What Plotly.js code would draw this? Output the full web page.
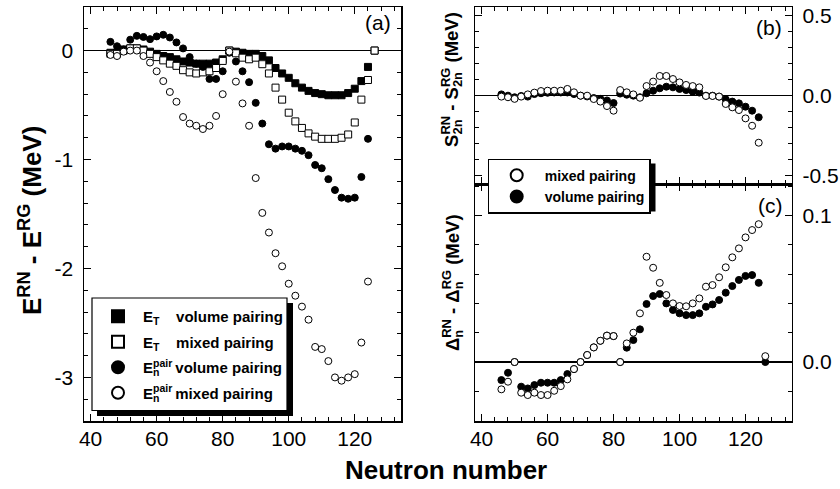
<!DOCTYPE html>
<html>
<head>
<meta charset="utf-8">
<script src="https://cdn.plot.ly/plotly-3.0.1.min.js"></script>
<style>
  html, body { margin: 0; padding: 0; background: #fff; }
  #chart { width: 840px; height: 489px; }
</style>
</head>
<body>
<div id="chart"></div>
<script>
// ---- Panel (a): energy differences E(RN) - E(RG), MeV ----
const neutronsA = [46,48,50,52,54,56,58,60,62,64,66,68,70,72,74,76,78,80,82,84,86,88,90,92,94,96,98,100,102,104,106,108,110,112,114,116,118,120,122,124,126];
const totalVolume = [-0.02,-0.02,0.01,0.02,0.02,0.01,-0.01,-0.03,-0.05,-0.06,-0.08,-0.10,-0.11,-0.12,-0.12,-0.12,-0.11,-0.08,0.0,-0.01,-0.02,-0.03,-0.03,-0.05,-0.09,-0.16,-0.21,-0.25,-0.30,-0.34,-0.37,-0.39,-0.40,-0.41,-0.41,-0.41,-0.39,-0.35,-0.28,-0.15,0.0];
const totalMixed = [-0.03,-0.03,0.0,0.02,0.02,0.0,-0.03,-0.06,-0.09,-0.12,-0.14,-0.18,-0.20,-0.21,-0.20,-0.19,-0.16,-0.095,0.0,-0.025,-0.065,-0.08,-0.065,-0.125,-0.21,-0.34,-0.45,-0.57,-0.65,-0.71,-0.76,-0.79,-0.81,-0.81,-0.81,-0.80,-0.77,-0.66,-0.45,-0.27,0.0];
const neutronsPair = [46,48,50,52,54,56,58,60,62,64,66,68,70,72,74,76,78,80,82,84,86,88,90,92,94,96,98,100,102,104,106,108,110,112,114,116,118,120,122,124];
const pairVolume = [0.08,0.04,0.01,0.10,0.135,0.125,0.105,0.13,0.145,0.12,0.075,0.02,-0.06,-0.12,-0.15,-0.26,-0.26,-0.19,-0.02,-0.10,-0.19,-0.29,-0.48,-0.67,-0.86,-0.90,-0.88,-0.88,-0.90,-0.92,-0.96,-1.05,-1.08,-1.18,-1.28,-1.35,-1.36,-1.35,-1.16,-0.81];
const pairMixed = [-0.04,-0.05,-0.01,0.0,0.0,-0.05,-0.11,-0.19,-0.28,-0.38,-0.47,-0.61,-0.67,-0.69,-0.72,-0.69,-0.60,-0.40,-0.01,-0.285,-0.485,-0.69,-1.17,-1.49,-1.67,-1.86,-1.98,-2.14,-2.25,-2.35,-2.47,-2.72,-2.74,-2.85,-3.0,-3.03,-3.0,-2.97,-2.68,-2.12];

// ---- Panel (b): two-neutron separation energy differences, MeV ----
const neutronsB = [46,48,50,52,54,56,58,60,62,64,66,68,70,72,74,76,78,80,82,84,86,88,90,92,94,96,98,100,102,104,106,108,110,112,114,116,118,120,122,124];
const s2nMixed = [-0.006,-0.01,-0.02,-0.006,0.008,0.019,0.029,0.031,0.031,0.031,0.042,0.021,0.0,0.0,-0.021,-0.037,-0.065,-0.094,0.035,0.021,0.008,-0.013,0.06,0.088,0.123,0.123,0.104,0.083,0.067,0.06,0.052,-0.002,-0.002,-0.006,-0.052,-0.073,-0.09,-0.142,-0.188,-0.294];
const s2nVolume = [0.008,0.0,-0.01,-0.002,-0.006,0.01,0.015,0.018,0.02,0.02,0.02,0.01,0.0,-0.005,-0.015,-0.02,-0.03,-0.046,0.013,0.006,0.0,-0.01,0.015,0.031,0.046,0.056,0.052,0.042,0.035,0.025,0.019,0.0,0.0,-0.006,-0.023,-0.037,-0.048,-0.069,-0.094,-0.135];

// ---- Panel (c): neutron pairing gap differences, MeV ----
const neutronsC = [46,48,50,52,54,56,58,60,62,64,66,68,70,72,74,76,78,80,82,84,86,88,90,92,94,96,98,100,102,104,106,108,110,112,114,116,118,120,122,124,126];
const gapMixed = [-0.0186,-0.0134,0.0,-0.0209,-0.0225,-0.0209,-0.0225,-0.0225,-0.0196,-0.0164,-0.0118,-0.0048,0.0,0.0048,0.010,0.0145,0.018,0.0177,0.0,0.0127,0.020,0.0332,0.0718,0.0643,0.054,0.0457,0.040,0.0382,0.038,0.040,0.0434,0.0514,0.0525,0.0578,0.0646,0.0714,0.0775,0.085,0.090,0.094,0.004];
const gapVolume = [-0.0123,-0.0073,0.0,-0.0168,-0.018,-0.0157,-0.0141,-0.0141,-0.0141,-0.0123,-0.0082,-0.0048,0.0,0.0048,0.010,0.0145,0.018,0.0177,0.0,0.0098,0.015,0.0223,0.0396,0.045,0.0464,0.040,0.0355,0.0332,0.032,0.032,0.0332,0.0377,0.0393,0.0423,0.0473,0.0518,0.056,0.0587,0.0593,0.054,0.0];

// ---- Tick labels ----
const xTicks = [40, 60, 80, 100, 120];
const xTickText = ['40', '60', '80', '100', '120'];
const yTicksA = [0, -1, -2, -3];
const yTickTextA = ['0', '-1', '-2', '-3'];
const yTicksB = [0.5, 0, -0.5];
const yTickTextB = ['0.5', '0.0', '-0.5'];
const yTicksC = [0.1, 0];
const yTickTextC = ['0.1', '0.0'];

const FONT = 'Liberation Sans, Arial, Helvetica, sans-serif';
const W = 840, H = 489;
const px = v => v / W;
const py = v => 1 - v / H;

const filled = (sym) => ({ symbol: sym, size: 7, color: '#000', line: { color: '#000', width: 1 } });
const hollow = (sym) => ({ symbol: sym, size: 7, color: '#fff', line: { color: '#000', width: 1 } });

const traces = [
  { x: neutronsA, y: totalVolume, xaxis: 'x', yaxis: 'y', mode: 'markers', marker: filled('square'),
    name: 'E<sub>T</sub>\u00a0\u00a0\u00a0\u00a0volume pairing', legend: 'legend', legendgroup: 'a1' },
  { x: neutronsA, y: totalMixed, xaxis: 'x', yaxis: 'y', mode: 'markers', marker: hollow('square'),
    name: 'E<sub>T</sub>\u00a0\u00a0\u00a0\u00a0mixed pairing', legend: 'legend', legendgroup: 'a2' },
  { x: neutronsPair, y: pairVolume, xaxis: 'x', yaxis: 'y', mode: 'markers', marker: filled('circle'),
    name: 'E<sub>n</sub><sup>pair</sup>\u2009volume pairing', legend: 'legend', legendgroup: 'a3' },
  { x: neutronsPair, y: pairMixed, xaxis: 'x', yaxis: 'y', mode: 'markers', marker: hollow('circle'),
    name: 'E<sub>n</sub><sup>pair</sup>\u2009mixed pairing', legend: 'legend', legendgroup: 'a4' },

  { x: neutronsB, y: s2nVolume, xaxis: 'x2', yaxis: 'y2', mode: 'markers', marker: filled('circle'),
    name: 'volume pairing', legend: 'legend2', legendrank: 2 },
  { x: neutronsB, y: s2nMixed, xaxis: 'x2', yaxis: 'y2', mode: 'markers', marker: hollow('circle'),
    name: 'mixed pairing', legend: 'legend2', legendrank: 1 },

  { x: neutronsC, y: gapVolume, xaxis: 'x3', yaxis: 'y3', mode: 'markers', marker: filled('circle'),
    name: 'volume pairing', showlegend: false },
  { x: neutronsC, y: gapMixed, xaxis: 'x3', yaxis: 'y3', mode: 'markers', marker: hollow('circle'),
    name: 'mixed pairing', showlegend: false }
];

const tickFont = { family: FONT, size: 21, color: '#000' };

function xAxis(domain, anchor, labels) {
  return {
    domain, anchor, range: [38, 134],
    showline: true, linecolor: '#000', linewidth: 1.5, mirror: 'ticks',
    ticks: 'inside', ticklen: 7, tickwidth: 1.2, tickcolor: '#000',
    tickvals: xTicks, ticktext: xTickText, showticklabels: labels,
    tickfont: tickFont, ticklabelstandoff: -2,
    minor: { ticks: 'inside', tick0: 40, dtick: 4, ticklen: 4, tickwidth: 1, tickcolor: '#000' },
    showgrid: false, zeroline: false
  };
}

function yAxis(domain, anchor, range, vals, text, minorStep, side) {
  return {
    domain, anchor, range, side,
    showline: true, linecolor: '#000', linewidth: 1.5, mirror: 'ticks',
    ticks: 'inside', ticklen: 7, tickwidth: 1.2, tickcolor: '#000',
    tickvals: vals, ticktext: text, tickfont: tickFont, ticklabelstandoff: 5,
    minor: { ticks: 'inside', tick0: 0, dtick: minorStep, ticklen: 4, tickwidth: 1, tickcolor: '#000' },
    showgrid: false, zeroline: true, zerolinecolor: '#000', zerolinewidth: 1.5
  };
}

const domA = [px(84), px(401)];
const domBC = [px(475), px(791.7)];

const titleFont = (size) => ({ family: FONT, size, color: '#000', weight: 'bold' });
const note = (text, x, y, font, angle) => ({
  text, x: px(x), y: py(y), xref: 'paper', yref: 'paper', xanchor: 'center', yanchor: 'middle',
  showarrow: false, textangle: angle || 0, font
});

const layout = {
  width: W, height: H,
  margin: { l: 0, r: 0, t: 0, b: 0 },
  paper_bgcolor: '#fff', plot_bgcolor: '#fff',
  font: { family: FONT, color: '#000' },
  xaxis: xAxis(domA, 'y', true),
  yaxis: yAxis([py(421), py(7)], 'x', [-3.4, 0.4], yTicksA, yTickTextA, 0.2, 'left'),
  xaxis2: xAxis(domBC, 'y2', false),
  yaxis2: yAxis([py(184), py(7)], 'x2', [-0.552, 0.554], yTicksB, yTickTextB, 0.1, 'right'),
  xaxis3: xAxis(domBC, 'y3', true),
  yaxis3: yAxis([py(421), py(184)], 'x3', [-0.0402, 0.1214], yTicksC, yTickTextC, 0.02, 'right'),
  legend: {
    x: px(93), y: py(300), xanchor: 'left', yanchor: 'top',
    bgcolor: 'rgba(0,0,0,0)', borderwidth: 0, itemwidth: 40, itemsizing: 'constant',
    tracegroupgap: 3,
    font: { family: FONT, size: 15, color: '#000', weight: 'bold' }, traceorder: 'grouped'
  },
  legend2: {
    x: px(487.5), y: py(158.5), xanchor: 'left', yanchor: 'top',
    bgcolor: '#fff', bordercolor: '#000', borderwidth: 1.2, itemwidth: 46, itemsizing: 'constant',
    font: { family: FONT, size: 14, color: '#000', weight: 'bold' }
  },
  shapes: [
    // drop shadows and frame of the panel (a) legend
    { type: 'rect', xref: 'paper', yref: 'paper', x0: px(97), x1: px(293), y0: py(416), y1: py(303),
      fillcolor: '#000', line: { width: 0 }, layer: 'above' },
    { type: 'rect', xref: 'paper', yref: 'paper', x0: px(92), x1: px(287), y0: py(410.5), y1: py(298),
      fillcolor: '#fff', line: { color: '#000', width: 1.2 }, layer: 'above' },
    // drop shadow of the panel (b) legend
    { type: 'rect', xref: 'paper', yref: 'paper', x0: px(492.5), x1: px(655.5), y0: py(211.5), y1: py(163.5),
      fillcolor: '#000', line: { width: 0 }, layer: 'above' }
  ],
  annotations: [
    note('(a)', 378, 22, { family: FONT, size: 21, color: '#000' }),
    note('(b)', 769, 27, { family: FONT, size: 21, color: '#000' }),
    note('(c)', 770, 205, { family: FONT, size: 21, color: '#000' }),
    note('E<sup>RN</sup> - E<sup>RG</sup> (MeV)', 30, 221, titleFont(26), -90),
    note('S<sub>2n</sub><sup>RN</sup> - S<sub>2n</sub><sup>RG</sup> (MeV)', 452, 80, titleFont(18.5), -90),
    note('\u0394<sub>n</sub><sup>RN</sup> - \u0394<sub>n</sub><sup>RG</sup> (MeV)', 452, 283, titleFont(18.5), -90),
    note('Neutron number', 446, 470, titleFont(26))
  ]
};

// Stack a superscript directly above the subscript that precedes it
// (e.g. E with "pair" above "n"), as in conventional notation.
function stackScripts(gd) {
  gd.querySelectorAll('text').forEach(t => {
    const spans = Array.from(t.querySelectorAll('tspan')).filter(s =>
      /70%/.test(s.getAttribute('style') || '') &&
      s.textContent.replace(/\u200b/g, '').length > 0);
    for (let i = 0; i < spans.length - 1; i++) {
      const a = spans[i], b = spans[i + 1];
      const da = parseFloat(a.getAttribute('dy') || '0');
      const db = parseFloat(b.getAttribute('dy') || '0');
      if (da > 0 && db < 0) {
        b.setAttribute('dx', -a.getComputedTextLength());
        i++;
      }
    }
  });
}

Plotly.newPlot('chart', traces, layout, { displayModeBar: false, staticPlot: true })
  .then(gd => stackScripts(gd));
</script>
</body>
</html>
